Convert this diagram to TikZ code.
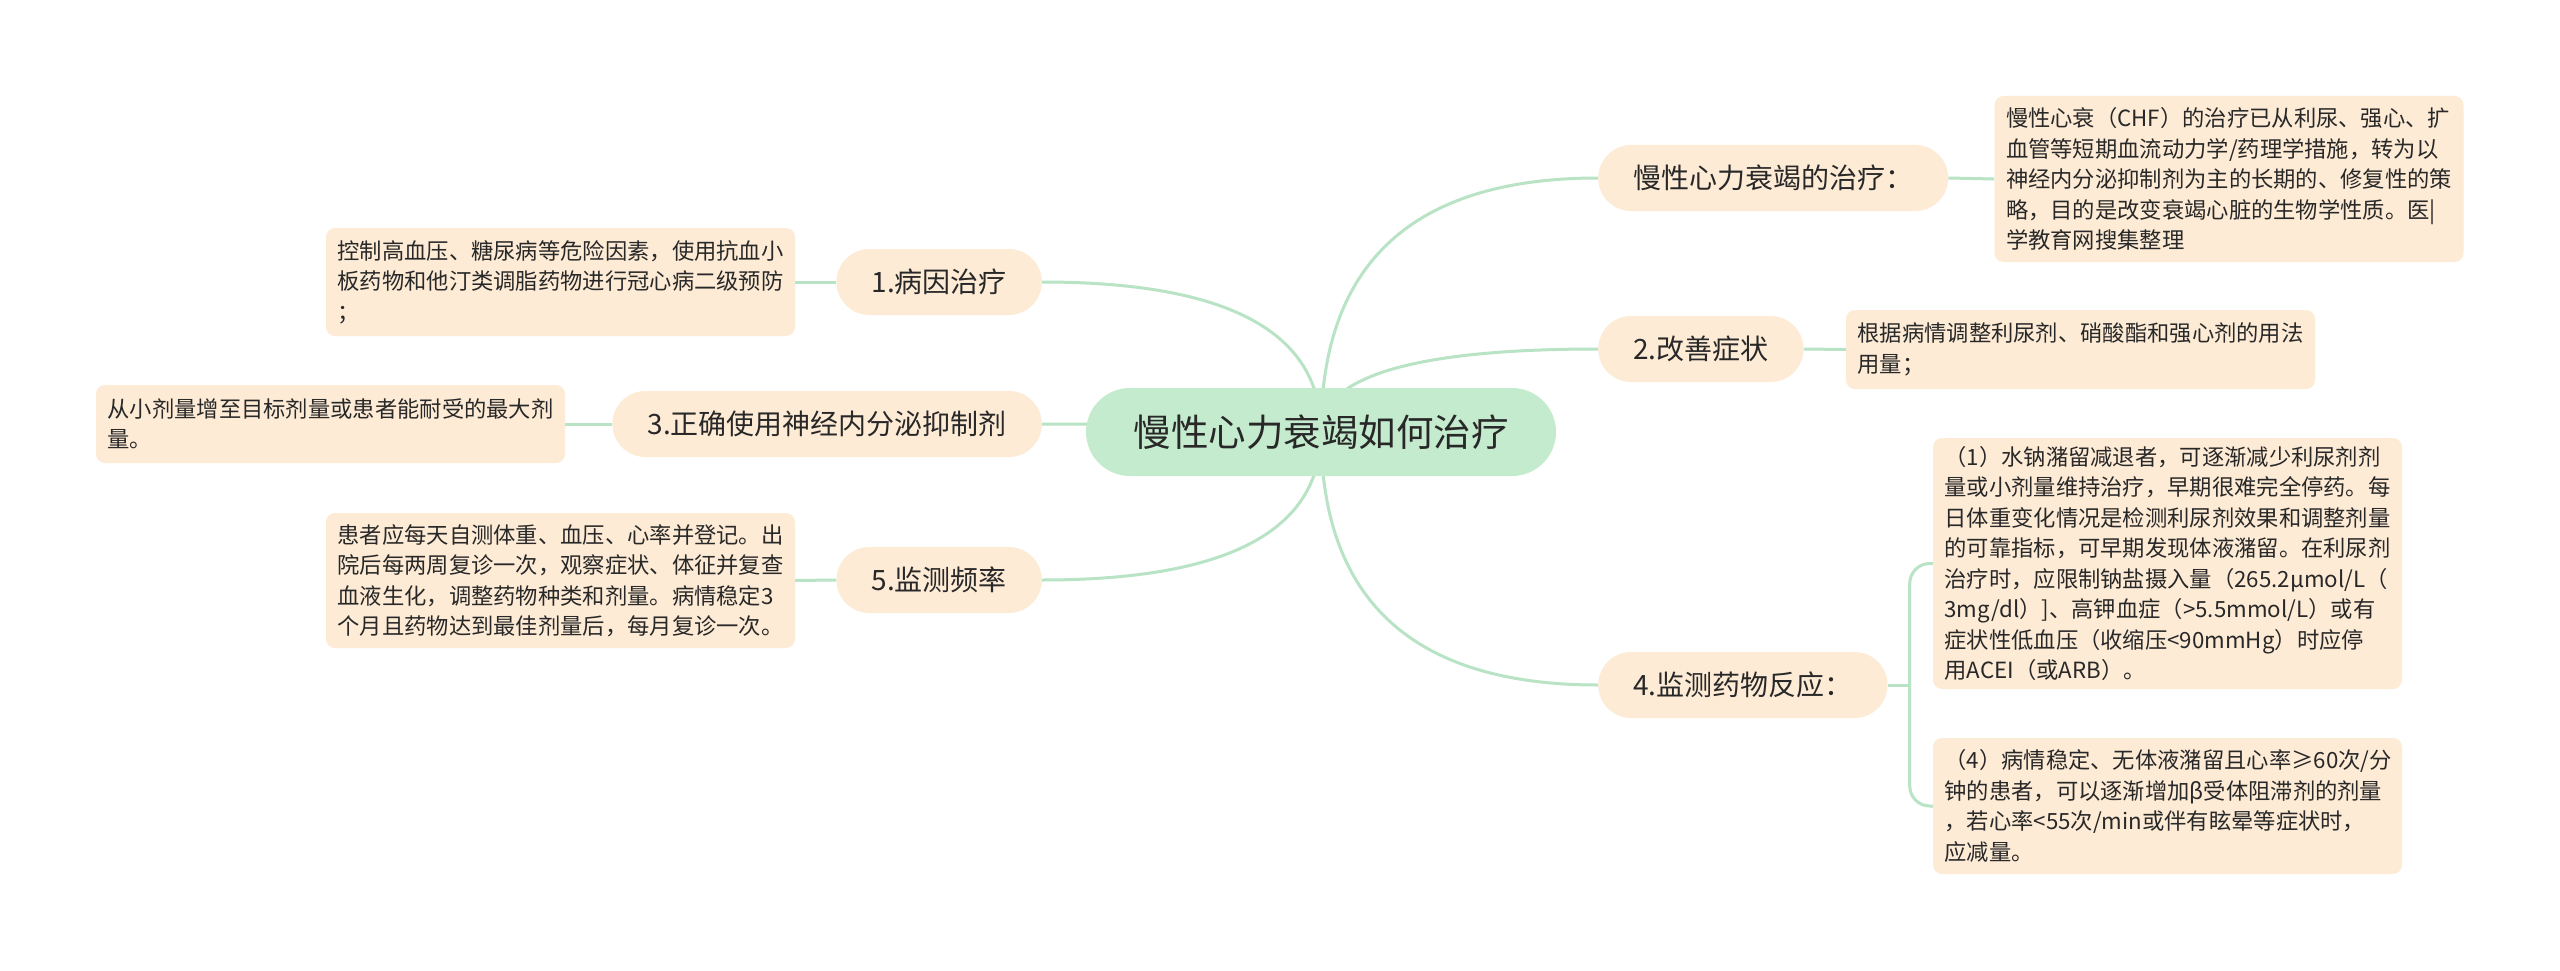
\documentclass[tikz,border=0pt]{standalone}
\usepackage{fontspec}
\setmainfont{Noto Sans CJK SC}
\usetikzlibrary{backgrounds,calc}
\definecolor{rootfill}{RGB}{197,235,206}
\definecolor{peach}{RGB}{253,235,214}
\definecolor{linegreen}{RGB}{184,227,196}
\definecolor{txt}{RGB}{40,40,40}
\tikzset{
 rootnode/.style={fill=rootfill, rounded corners=44pt, minimum width=470pt, minimum height=88pt, inner sep=0pt, font=\fontsize{37.5}{40}\selectfont, text=txt},
 branchnode/.style={fill=peach, rounded corners=33pt, minimum height=66pt, inner xsep=35pt, inner ysep=0pt, font=\fontsize{28}{32}\selectfont, text=txt},
 leafnode/.style={fill=peach, rounded corners=9pt, text width=446pt, inner xsep=11.5pt, inner ysep=0pt, align=left, font=\fontsize{22.3}{30.5}\selectfont, text=txt},
 conn/.style={draw=linegreen, line width=3pt},
}
\begin{document}
\begin{tikzpicture}[x=1pt,y=-1pt]
\useasboundingbox (0,0) rectangle (2560,971);
% root
\node[rootnode] (root) at (1321,432) {慢性心力衰竭如何治疗};
% right branches
\node[branchnode, anchor=west] (b0) at (1598,178) {慢性心力衰竭的治疗：};
\node[branchnode, anchor=west] (b2) at (1598,349) {2.改善症状};
\node[branchnode, anchor=west] (b4) at (1598,685) {4.监测药物反应：};
% left branches
\node[branchnode, anchor=east] (b1) at (1042,282) {1.病因治疗};
\node[branchnode, anchor=east] (b3) at (1042,424) {3.正确使用神经内分泌抑制剂};
\node[branchnode, anchor=east] (b5) at (1042,580) {5.监测频率};
% leaves right
\node[leafnode, minimum height=166pt] (r0) at (2229,179) {慢性心衰（CHF）的治疗已从利尿、强心、扩\\血管等短期血流动力学/药理学措施，转为以\\神经内分泌抑制剂为主的长期的、修复性的策\\略，目的是改变衰竭心脏的生物学性质。医|\\学教育网搜集整理};
\node[leafnode, minimum height=79pt] (r2) at (2080.5,349.5) {根据病情调整利尿剂、硝酸酯和强心剂的用法\\用量；};
\node[leafnode, minimum height=251pt] (r3) at (2167.5,563.5) {（1）水钠潴留减退者，可逐渐减少利尿剂剂\\量或小剂量维持治疗，早期很难完全停药。每\\日体重变化情况是检测利尿剂效果和调整剂量\\的可靠指标，可早期发现体液潴留。在利尿剂\\治疗时，应限制钠盐摄入量（265.2μmol/L（\\3mg/dl）]、高钾血症（>5.5mmol/L）或有\\症状性低血压（收缩压<90mmHg）时应停\\用ACEI（或ARB）。};
\node[leafnode, minimum height=136pt] (r4) at (2167.5,806) {（4）病情稳定、无体液潴留且心率≥60次/分\\钟的患者，可以逐渐增加β受体阻滞剂的剂量\\，若心率<55次/min或伴有眩晕等症状时，\\应减量。};
% leaves left
\node[leafnode, minimum height=108pt] (l1) at (560.5,282) {控制高血压、糖尿病等危险因素，使用抗血小\\板药物和他汀类调脂药物进行冠心病二级预防\\；};
\node[leafnode, minimum height=78pt] (l3) at (330.5,424) {从小剂量增至目标剂量或患者能耐受的最大剂\\量。};
\node[leafnode, minimum height=135pt] (l5) at (560.5,580.5) {患者应每天自测体重、血压、心率并登记。出\\院后每两周复诊一次，观察症状、体征并复查\\血液生化，调整药物种类和剂量。病情稳定3\\个月且药物达到最佳剂量后，每月复诊一次。};
\coordinate (j4) at ($(b4.east)+(22,0)$);
\begin{scope}[on background layer]
\fill[white] (0,0) rectangle (2560,971);
\foreach \b/\a in {b0/west,b2/west,b4/west,b1/east,b3/east,b5/east}{
  \draw[conn] (root.center) .. controls ($(root.center)!0.667!(root.center |- \b.\a)$) and ($(\b.\a)!0.667!(root.center |- \b.\a)$) .. (\b.\a);
}
\draw[conn] (b0.east) -- (r0.west);
\draw[conn] (b2.east) -- (r2.west);
\draw[conn] (b1.west) -- (l1.east);
\draw[conn] (b3.west) -- (l3.east);
\draw[conn] (b5.west) -- (l5.east);
\draw[conn] (b4.east) -- (j4);
\draw[conn, rounded corners=20pt] (r3.west) -| (j4) |- (r4.west);
\end{scope}
\end{tikzpicture}
\end{document}
